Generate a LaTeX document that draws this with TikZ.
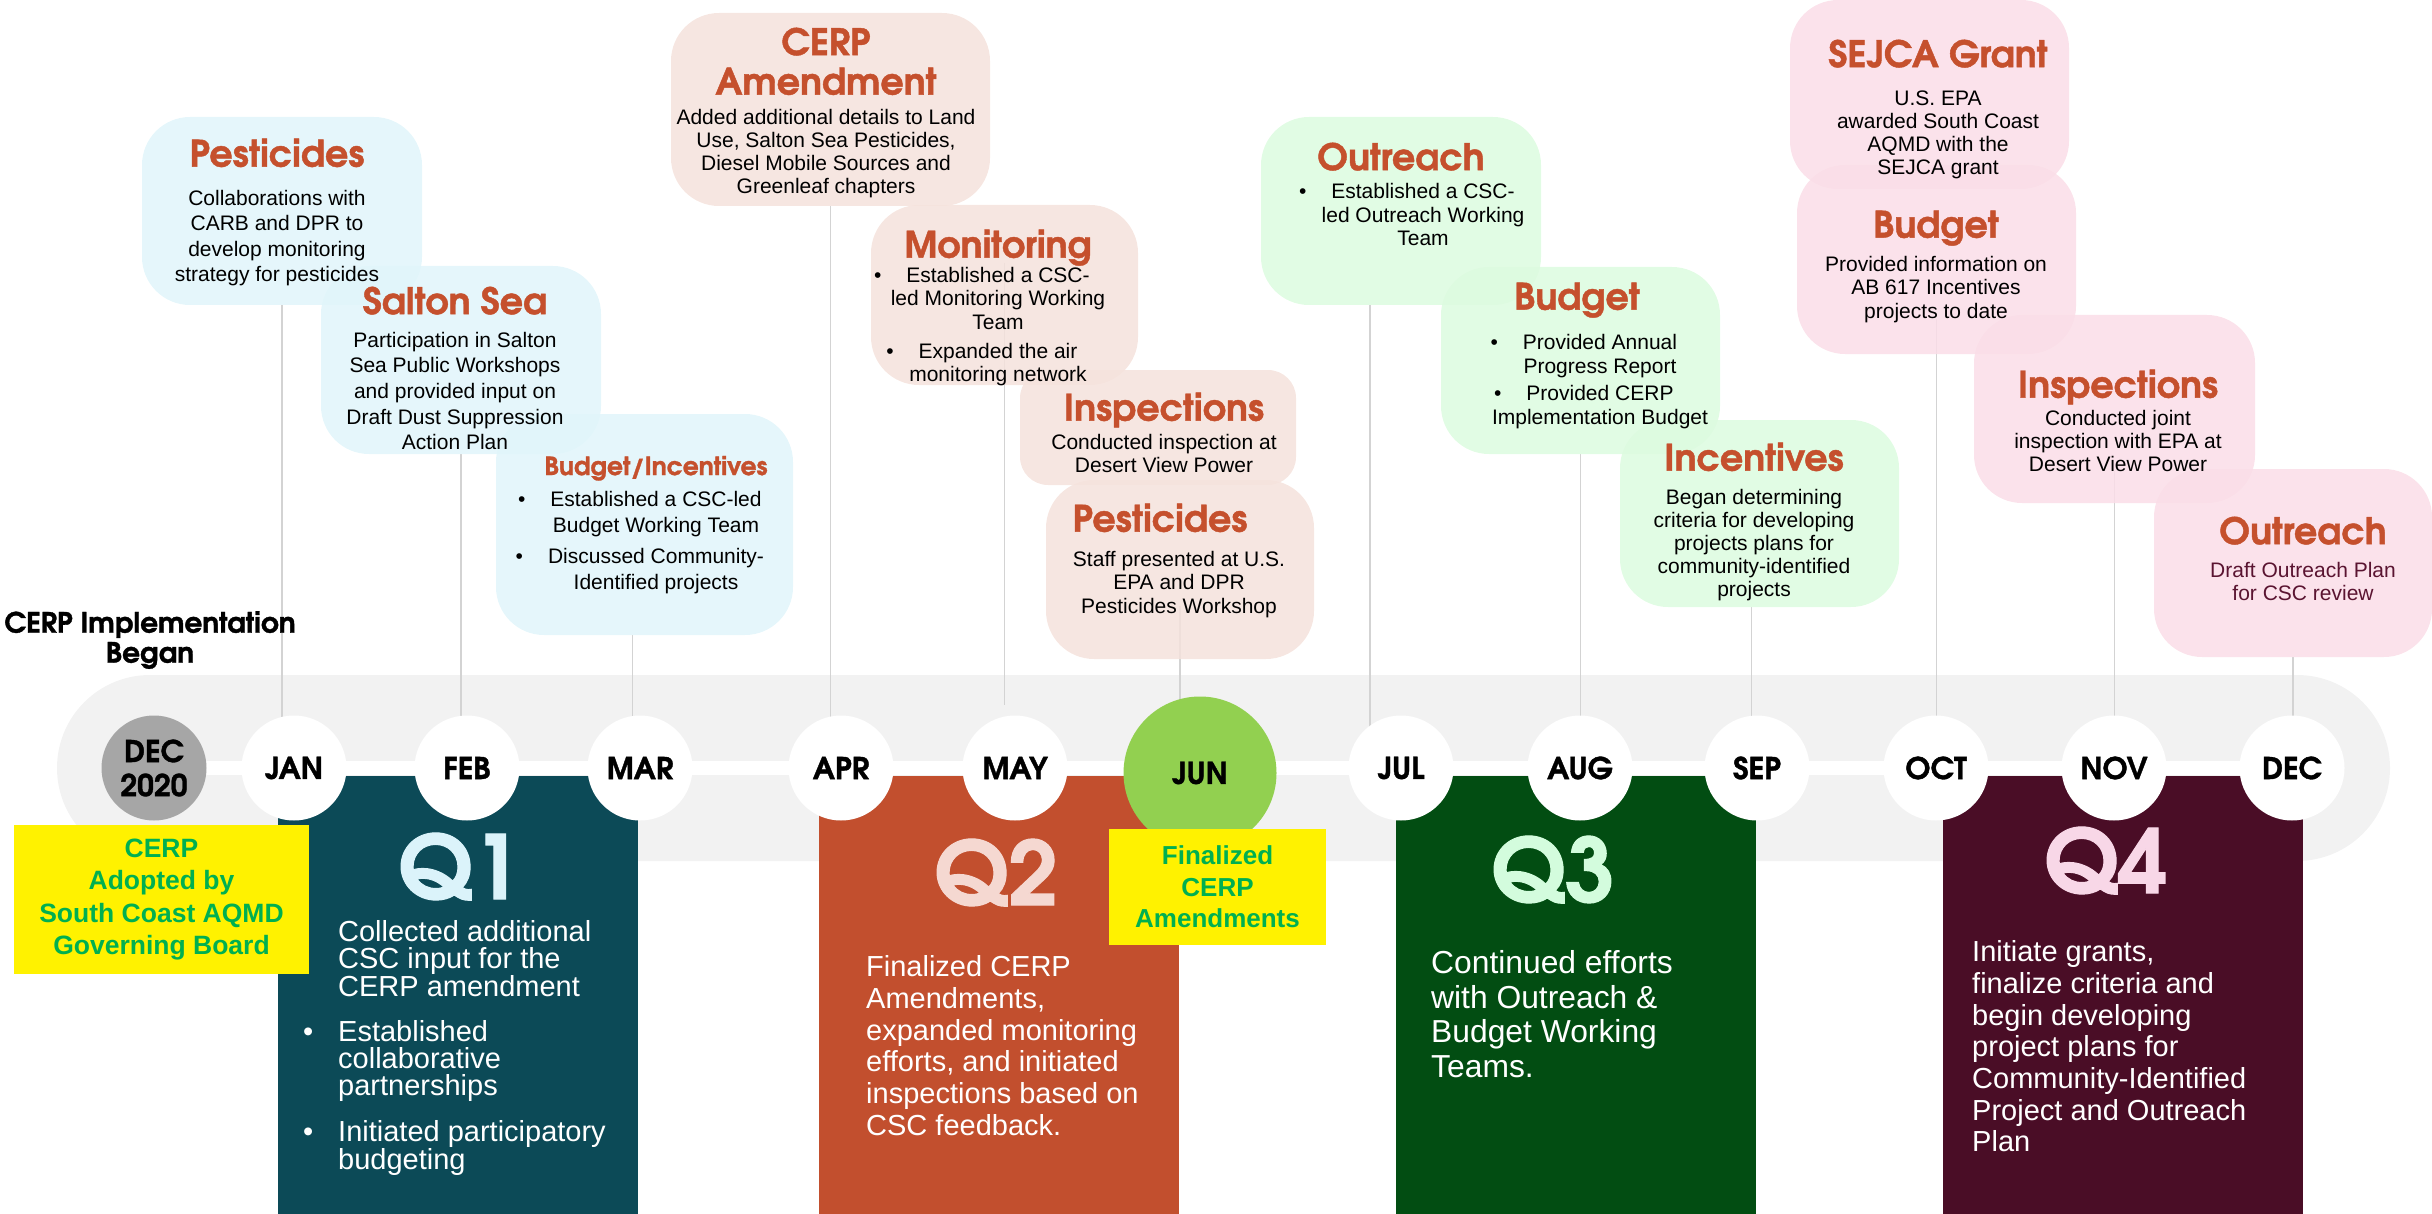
\documentclass[tikz,border=0pt]{standalone}
\usepackage{fontspec}
\setmainfont{Liberation Sans}
\newfontfamily\gothic{texgyreadventor}[Extension=.otf,UprightFont=*-regular,BoldFont=*-bold,BoldFeatures={FakeBold=1.2}]
\usetikzlibrary{calc,backgrounds}
\definecolor{bandgrey}{HTML}{F2F2F2}
\definecolor{stemgrey}{HTML}{D3D3D3}
\definecolor{blu}{HTML}{E0F5FA}
\definecolor{beige}{HTML}{F5E2DC}
\definecolor{grn}{HTML}{DCFBDF}
\definecolor{pnk}{HTML}{FADDE7}
\definecolor{ttlred}{HTML}{C5502D}
\definecolor{outbody}{HTML}{5A1431}
\definecolor{decgrey}{HTML}{A6A6A6}
\definecolor{jungreen}{HTML}{92D050}
\definecolor{q1col}{HTML}{0C4A57}
\definecolor{q2col}{HTML}{C24F2E}
\definecolor{q3col}{HTML}{024D12}
\definecolor{q4col}{HTML}{4A0D26}
\definecolor{q1txt}{HTML}{DBF3FA}
\definecolor{q2txt}{HTML}{F5D8D1}
\definecolor{q3txt}{HTML}{D3FCDD}
\definecolor{q4txt}{HTML}{F8D7E7}
\definecolor{adoptgreen}{HTML}{00B050}
\newcommand{\hd}{\gothic\bfseries\fontsize{36.5}{39}\selectfont\color{ttlred}}
\newcommand{\bul}{\llap{\textbullet\hspace{25pt}}}
\begin{document}
\begin{tikzpicture}[x=1pt,y=-1pt,
  callout/.style={rounded corners=48pt,inner sep=0pt,fill opacity=.85},
  blubox/.style={callout,fill=blu},
  beigebox/.style={callout,fill=beige},
  grnbox/.style={callout,fill=grn},
  pnkbox/.style={callout,fill=pnk},
  txt/.style={align=center,inner sep=0pt,anchor=north},
  stem/.style={draw=stemgrey,line width=1.5pt},
  month/.style={circle,fill=white,minimum size=105pt,inner sep=0pt,align=center,
    font=\gothic\bfseries\fontsize{30}{34}\selectfont},
  qpanel/.style={anchor=north west,minimum height=438pt,minimum width=360pt,inner sep=0pt},
  qlab/.style={anchor=base,inner sep=0pt,font=\gothic\bfseries\fontsize{88}{88}\selectfont},
  qtxt/.style={anchor=north west,align=left,inner sep=0pt,text=white},
  ybox/.style={fill=yellow,text=adoptgreen,align=center,inner sep=0pt}]
\useasboundingbox (0,0) rectangle (2432,1214);

\node[blubox,minimum width=280pt,minimum height=188pt] (pestA) at (282,211) {};
\node[blubox,minimum width=280pt,minimum height=188pt] (salton) at (461,360) {};
\node[blubox,minimum width=297pt,minimum height=221pt] (binc) at (644.5,524.5) {};
\node[beigebox,minimum width=319pt,minimum height=193pt] (cerpA) at (830.5,109.5) {};
\node[beigebox,minimum width=267pt,minimum height=180pt] (monit) at (1004.5,295) {};
\node[beigebox,minimum width=276pt,minimum height=115pt,rounded corners=28pt] (inspA) at (1158,427.5) {};
\node[beigebox,minimum width=268pt,minimum height=179pt] (pestB) at (1180,569.5) {};
\node[grnbox,minimum width=280pt,minimum height=188pt] (outA) at (1401,211) {};
\node[grnbox,minimum width=279pt,minimum height=187pt] (budA) at (1580.5,360.5) {};
\node[grnbox,minimum width=279pt,minimum height=187pt] (incA) at (1759.5,513.5) {};
\node[pnkbox,minimum width=279pt,minimum height=189pt] (sejca) at (1929.5,94.5) {};
\node[pnkbox,minimum width=279pt,minimum height=189pt] (budB) at (1936.5,259.5) {};
\node[pnkbox,minimum width=281pt,minimum height=188pt] (inspB) at (2114.5,409) {};
\node[pnkbox,minimum width=278pt,minimum height=188pt] (outB) at (2293,563) {};

\node[txt,font=\fontsize{21}{25.3}\selectfont] (pestAt) at (277,138.5) {{\hd Pesticides}\\[13.7pt]
  Collaborations with\\ CARB and DPR to\\ develop monitoring\\ strategy for pesticides};
\node[txt,font=\fontsize{21}{25.7}\selectfont] (saltont) at (455,286.5) {{\hd Salton Sea}\\[7.3pt]
  Participation in Salton\\ Sea Public Workshops\\ and provided input on\\ Draft Dust Suppression\\ Action Plan};
\node[txt,font=\fontsize{21}{26}\selectfont] (binct) at (656,455.7) {{\hd\fontsize{25}{27}\selectfont Budget/Incentives}\\[5.7pt]
  \bul Established a CSC-led\\ Budget Working Team\\[5pt] \bul Discussed Community-\\ Identified projects};
\node[txt,font=\fontsize{21}{23}\selectfont] (cerpAt) at (826,27.5) {{\hd CERP}\\[11pt]{\hd Amendment}\\[7pt]
  Added additional details to Land\\ Use, Salton Sea Pesticides,\\ Diesel Mobile Sources and\\ Greenleaf chapters};
\node[txt,font=\fontsize{21}{23.5}\selectfont] (monitt) at (998,229.5) {{\hd Monitoring}\\[1pt]
  \bul Established a CSC-\\ led Monitoring Working\\ Team\\[5.5pt] \bul Expanded the air\\ monitoring network};
\node[txt,font=\fontsize{21}{23}\selectfont] (inspAt) at (1164,392.5) {{\hd Inspections}\\[5.5pt]
  Conducted inspection at\\ Desert View Power};
\node[txt,font=\fontsize{21}{23.5}\selectfont] (pestBt) at (1179,503.5) {{\hd Pesticides\kern38pt}\\[11pt]
  Staff presented at U.S.\\ EPA and DPR\\ Pesticides Workshop};
\node[txt,font=\fontsize{21}{23.5}\selectfont] (outAt) at (1423,142.5) {{\hd Outreach\kern44pt}\\[5pt]
  \bul Established a CSC-\\ led Outreach Working\\ Team};
\node[txt,font=\fontsize{21}{24}\selectfont] (budAt) at (1600,282.5) {{\hd Budget\kern46pt}\\[15.5pt]
  \bul Provided Annual\\ Progress Report\\[3pt] \bul Provided CERP\\ Implementation Budget};
\node[txt,font=\fontsize{21}{23.2}\selectfont] (incAt) at (1754,442.5) {{\hd Incentives}\\[10.3pt]
  Began determining\\ criteria for developing\\ projects plans for\\ community-identified\\ projects};
\node[txt,font=\fontsize{21}{23}\selectfont] (sejcat) at (1938,39.5) {{\hd SEJCA Grant}\\[15.5pt]
  U.S. EPA\\ awarded South Coast\\ AQMD with the\\ SEJCA grant};
\node[txt,font=\fontsize{21}{23.5}\selectfont] (budBt) at (1936,210.5) {{\hd Budget}\\[10pt]
  Provided information on\\ AB 617 Incentives\\ projects to date};
\node[txt,font=\fontsize{21}{23}\selectfont] (inspBt) at (2118,369.5) {{\hd Inspections}\\[4.5pt]
  Conducted joint\\ inspection with EPA at\\ Desert View Power};
\node[txt,font=\fontsize{21}{23}\selectfont,text=outbody] (outBt) at (2303,516.5) {{\hd Outreach}\\[10.5pt]
  Draft Outreach Plan\\ for CSC review};

\node[qpanel,fill=q1col] (q1) at (278,776) {};
\node[qpanel,fill=q2col] (q2) at (819,776) {};
\node[qpanel,fill=q3col] (q3) at (1396,776) {};
\node[qpanel,fill=q4col] (q4) at (1943,776) {};
\node[qlab,text=q1txt] (q1lab) at (460,899) {Q1};
\node[qlab,text=q2txt] (q2lab) at (996,905) {Q2};
\node[qlab,text=q3txt] (q3lab) at (1553,902) {Q3};
\node[qlab,text=q4txt] (q4lab) at (2106,893) {Q4};
\node[qtxt,font=\fontsize{29}{27}\selectfont] (q1t) at (338,920) {\llap{\textbullet\hspace{28pt}}Collected additional\\ CSC input for the\\ CERP amendment\\[18pt]
  \bul Established\\ collaborative\\ partnerships\\[18pt] \bul Initiated participatory\\ budgeting};
\node[qtxt,font=\fontsize{29}{31.7}\selectfont] (q2t) at (866,955.5) {Finalized CERP\\ Amendments,\\ expanded monitoring\\
  efforts, and initiated\\ inspections based on\\ CSC feedback.};
\node[qtxt,font=\fontsize{31.8}{34.5}\selectfont] (q3t) at (1431,950.5) {Continued efforts\\ with Outreach \&\\ Budget Working\\ Teams.};
\node[qtxt,font=\fontsize{29}{31.7}\selectfont] (q4t) at (1972,940.5) {Initiate grants,\\ finalize criteria and\\ begin developing\\
  project plans for\\ Community-Identified\\ Project and Outreach\\ Plan};

\node[month,fill=decgrey] (dec20) at (154,768) {DEC\\2020};
\foreach \m/\x in {JAN/294,FEB/467,MAR/640,APR/841,MAY/1015,JUL/1401,AUG/1580,SEP/1757,OCT/1936,NOV/2114,DEC/2292}
  \node[month] (\m) at (\x,768) {\m};
\node[month,fill=jungreen,minimum size=153pt] (JUN) at (1200,773) {JUN};

\node[ybox,minimum width=295pt,minimum height=149pt,font=\bfseries\fontsize{26.5}{32.5}\selectfont] (adopt) at (161.5,899.5)
  {CERP\\ Adopted by\\ South Coast AQMD\\ Governing Board};
\node[ybox,minimum width=217pt,minimum height=116pt,font=\bfseries\fontsize{26}{31.5}\selectfont] (final) at (1217.5,887)
  {Finalized\\ CERP\\ Amendments};
\node[txt,font=\gothic\bfseries\fontsize{28}{30}\selectfont] (began) at (150,611) {CERP Implementation\\ Began};

\begin{scope}[on background layer]
\fill[bandgrey,rounded corners=93pt] (57,675) rectangle (2390,861);
\draw[white,line width=14pt] (dec20.center) -- (DEC.center);
\draw[stem] (pestA.south) -- (pestA.south |- JAN.center);
\draw[stem] (salton.south) -- (salton.south |- FEB.center);
\draw[stem] ($(binc.south)+(-12,0)$) -- ($(binc.south |- MAR.center)+(-12,0)$);
\draw[stem] (cerpA.south) -- (cerpA.south |- APR.center);
\draw[stem] ($(monit.center)+(0,-32)$) -- ($(monit.center |- MAY.north)+(0,-10)$);
\draw[stem] ($(pestB.center)+(0,36)$) -- (pestB.center |- JUN.center);
\draw[stem] ($(outA.south)+(-31,0)$) -- ($(outA.south |- JUL.center)+(-31,0)$);
\draw[stem] (budA.south) -- (budA.south |- AUG.center);
\draw[stem] ($(incA.south)+(-8,0)$) -- ($(incA.south |- SEP.center)+(-8,0)$);
\draw[stem] ($(budB.center)+(0,60)$) -- (budB.center |- OCT.center);
\draw[stem] ($(inspB.center)+(0,62)$) -- (inspB.center |- NOV.center);
\draw[stem] (outB.south) -- (outB.south |- DEC.center);
\end{scope}
\end{tikzpicture}
\end{document}
